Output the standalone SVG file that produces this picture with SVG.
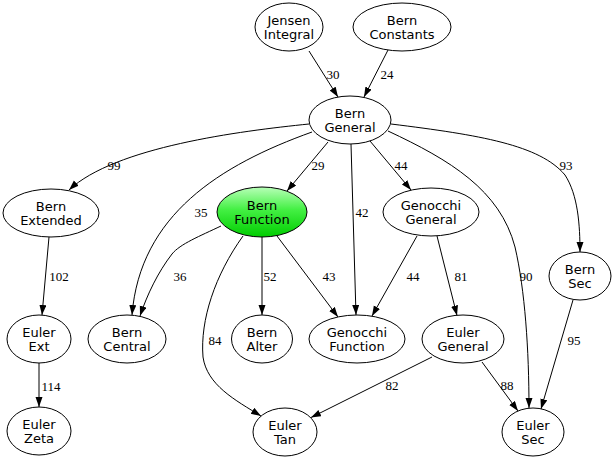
<svg xmlns="http://www.w3.org/2000/svg" width="613" height="460" viewBox="0 0 613 460">
<style>
.n ellipse{fill:#fff;stroke:#000;stroke-width:1}
.n text{font-family:"DejaVu Sans",sans-serif;font-size:13px;text-anchor:middle;fill:#000}
.e path{fill:none;stroke:#000;stroke-width:1;marker-end:url(#ah)}
.e text{font-family:"Liberation Serif","Times New Roman",serif;font-size:13px;text-anchor:middle;fill:#000}
</style>
<defs>
<marker id="ah" markerUnits="userSpaceOnUse" markerWidth="10" markerHeight="8" refX="10" refY="3.5" orient="auto">
<path d="M0,0 L10,3.5 L0,7 z" fill="#000"/>
</marker>
<linearGradient id="gr" x1="0" y1="0" x2="0" y2="1">
<stop offset="0" stop-color="#b8ffb8"/>
<stop offset="0.45" stop-color="#44f044"/>
<stop offset="1" stop-color="#00cc00"/>
</linearGradient>
</defs>
<rect width="613" height="460" fill="#fff"/>
<g id="edges" class="e">
<path d="M309,51 L338,97"/><text x="333" y="78.5">30</text>
<path d="M388,50 L364,97"/><text x="387" y="78.5">24</text>
<path d="M309,124 C240,131 115,147 69,190"/><text x="114" y="169.5">99</text>
<path d="M312,132 C220,165 140,215 132,315"/><text x="201" y="216.5">35</text>
<path d="M221,226 C200,236 180,244 172,254 C158,272 147,295 140,316"/><text x="180" y="280.5">36</text>
<path d="M328,142 L287,191"/><text x="318" y="170">29</text>
<path d="M351,144 L356,315"/><text x="362" y="216.5">42</text>
<path d="M370,141 L411,190"/><text x="401" y="170">44</text>
<path d="M388,131 C450,160 500,190 515,247 C525,290 529,350 529,408"/><text x="526" y="280.5">90</text>
<path d="M391,124 C480,135 540,145 565,175 C578,195 580,225 580,252"/><text x="566" y="169.5">93</text>
<path d="M49,237 L42,315"/><text x="59" y="280.5">102</text>
<path d="M262,237 L262,315"/><text x="270" y="280.5">52</text>
<path d="M277,236 L338,317"/><text x="329" y="280.5">43</text>
<path d="M243,236 C215,275 200,320 203,357 C207,385 235,400 261,416"/><text x="215" y="344.5">84</text>
<path d="M417,236 L372,316"/><text x="413" y="280.5">44</text>
<path d="M437,236 L457,315.5"/><text x="461" y="280.5">81</text>
<path d="M39,363 L39,407"/><text x="51" y="390.5">114</text>
<path d="M432,357 L311,417.5"/><text x="392" y="389.5">82</text>
<path d="M482,362 L518,411"/><text x="507" y="389.5">88</text>
<path d="M573,300 L541,409"/><text x="574" y="344.5">95</text>
</g>
<g id="jensen_integral" class="n"><ellipse cx="289" cy="27" rx="34" ry="24"/><text x="289" y="24.5">Jensen</text><text x="289" y="38.5">Integral</text></g>
<g id="bern_constants" class="n"><ellipse cx="402" cy="27" rx="49" ry="24"/><text x="402" y="24.5">Bern</text><text x="402" y="38.5">Constants</text></g>
<g id="bern_general" class="n"><ellipse cx="350" cy="120" rx="41" ry="24"/><text x="350" y="117.5">Bern</text><text x="350" y="131.5">General</text></g>
<g id="bern_extended" class="n"><ellipse cx="51" cy="213" rx="48" ry="24"/><text x="51" y="210.5">Bern</text><text x="51" y="224.5">Extended</text></g>
<g id="bern_function" class="n"><ellipse cx="262" cy="212" rx="45" ry="25" style="fill:url(#gr)"/><text x="262" y="209.5">Bern</text><text x="262" y="223.5">Function</text></g>
<g id="genocchi_general" class="n"><ellipse cx="431" cy="212" rx="48" ry="24"/><text x="431" y="209.5">Genocchi</text><text x="431" y="223.5">General</text></g>
<g id="bern_sec" class="n"><ellipse cx="580" cy="276" rx="31" ry="24"/><text x="580" y="273.5">Bern</text><text x="580" y="287.5">Sec</text></g>
<g id="euler_ext" class="n"><ellipse cx="39" cy="339" rx="32" ry="24"/><text x="39" y="336.5">Euler</text><text x="39" y="350.5">Ext</text></g>
<g id="bern_central" class="n"><ellipse cx="127" cy="339" rx="39" ry="24"/><text x="127" y="336.5">Bern</text><text x="127" y="350.5">Central</text></g>
<g id="bern_alter" class="n"><ellipse cx="262" cy="339" rx="30.5" ry="24"/><text x="262" y="336.5">Bern</text><text x="262" y="350.5">Alter</text></g>
<g id="genocchi_function" class="n"><ellipse cx="357" cy="339" rx="48" ry="24"/><text x="357" y="336.5">Genocchi</text><text x="357" y="350.5">Function</text></g>
<g id="euler_general" class="n"><ellipse cx="463" cy="339" rx="41" ry="24"/><text x="463" y="336.5">Euler</text><text x="463" y="350.5">General</text></g>
<g id="euler_zeta" class="n"><ellipse cx="39" cy="431" rx="32" ry="24"/><text x="39" y="428.5">Euler</text><text x="39" y="442.5">Zeta</text></g>
<g id="euler_tan" class="n"><ellipse cx="285" cy="432" rx="32" ry="24"/><text x="285" y="429.5">Euler</text><text x="285" y="443.5">Tan</text></g>
<g id="euler_sec" class="n"><ellipse cx="533" cy="432" rx="31" ry="24"/><text x="533" y="429.5">Euler</text><text x="533" y="443.5">Sec</text></g>
</svg>
